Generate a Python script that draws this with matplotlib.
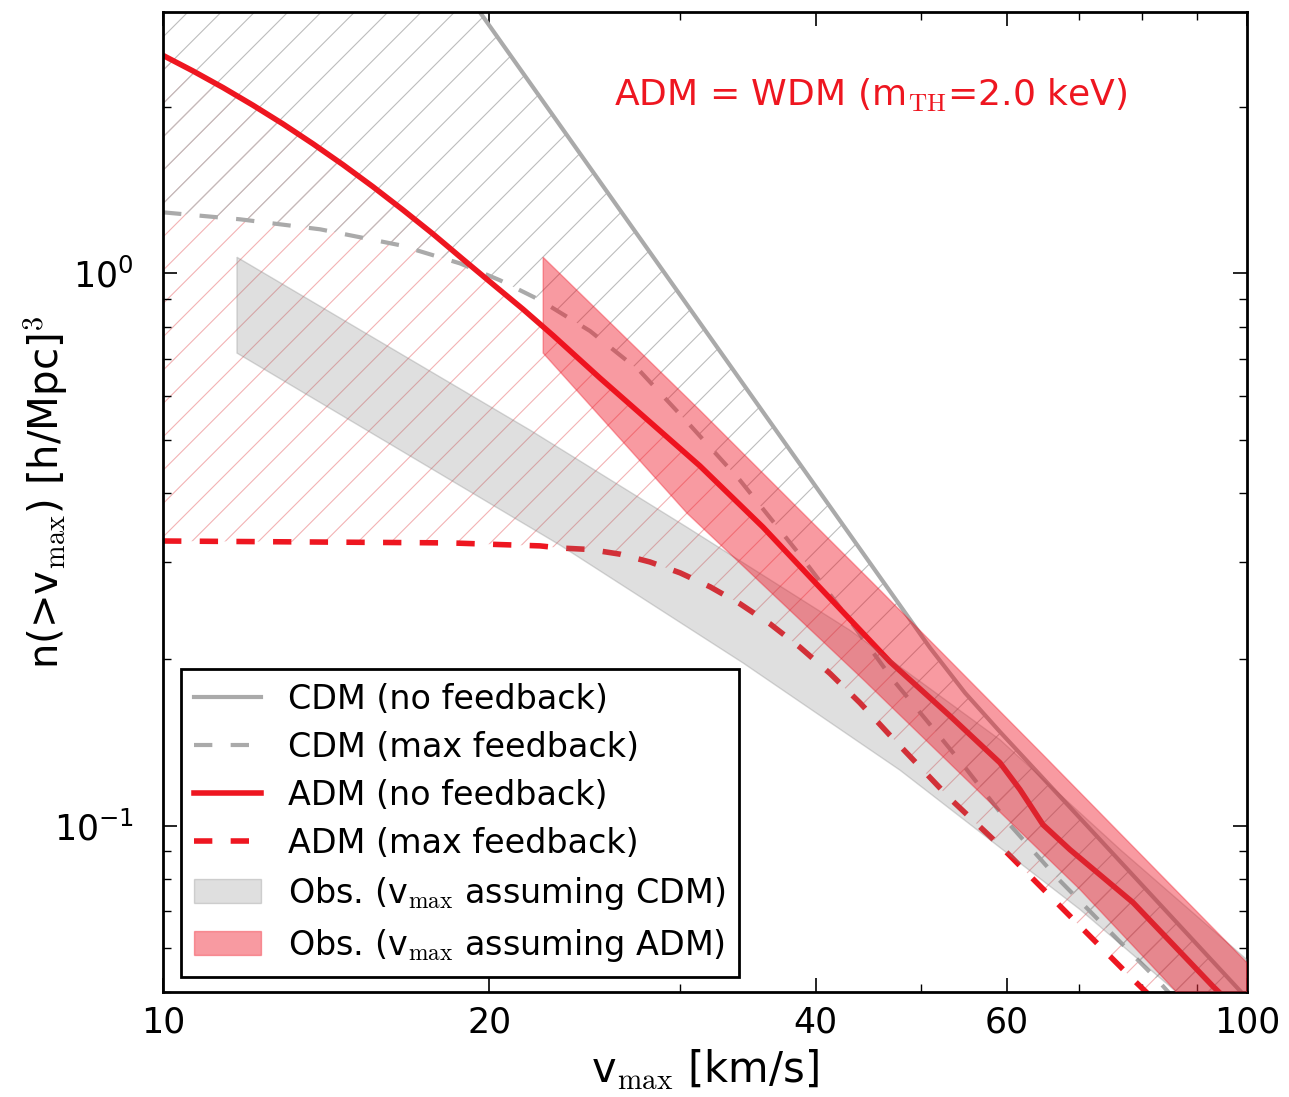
import numpy as np
import matplotlib
matplotlib.use("Agg")
import matplotlib.pyplot as plt
from matplotlib.ticker import FixedLocator, NullFormatter, FixedFormatter

plt.rcParams["mathtext.fontset"] = "cm"
plt.rcParams["font.family"] = ["DejaVu Sans"]
plt.rcParams["hatch.linewidth"] = 0.8

# --- cumulative velocity functions n(>v_max) [(h/Mpc)^3] ---
v_cdm = [10, 19.61, 51.0, 54.95, 59.17, 73.2, 100]
n_cdm = [19.1, 2.965, 0.2099, 0.1739, 0.1479, 0.0943, 0.0487]

v_cdm_fb = [10, 11.78, 13.96, 16.54, 18.79, 20.46, 22.27, 24.77, 27.54, 30.63,
            34.06, 38.69, 43.03, 47.14, 51.02, 54.70, 60.43, 66.80, 74.75, 82.6, 100]
n_cdm_fb = [1.289, 1.252, 1.201, 1.124, 1.042, 0.971, 0.894, 0.786, 0.665, 0.531,
            0.422, 0.309, 0.235, 0.1837, 0.1523, 0.1289, 0.1004, 0.0805, 0.0643,
            0.0527, 0.0347]

v_adm = [10, 10.658, 11.359, 12.106, 12.903, 13.751, 14.656, 15.62, 16.647,
         17.743, 18.91, 20.154, 21.48, 22.893, 25.30, 28.13, 31.28, 35.77,
         41.24, 46.85, 53.21, 59.17, 61.75, 64.84, 68.66, 78.5, 93.03, 100]
n_adm = [2.479, 2.323, 2.168, 2.014, 1.863, 1.715, 1.572, 1.434, 1.302,
         1.178, 1.060, 0.955, 0.861, 0.772, 0.646, 0.538, 0.448, 0.347,
         0.258, 0.198, 0.158, 0.130, 0.1162, 0.1004, 0.0905, 0.0726, 0.0512, 0.0446]

v_adm_fb = [10, 18.4, 22.27, 23.24, 24.77, 26.40, 28.13, 29.99, 31.96, 34.06,
            36.31, 38.69, 41.24, 43.96, 46.85, 53.21, 59.17, 78.5, 100]
n_adm_fb = [0.3276, 0.325, 0.321, 0.3182, 0.3162, 0.3101, 0.3002, 0.2869, 0.2707,
            0.2522, 0.2319, 0.2104, 0.1886, 0.1668, 0.1457, 0.112, 0.092, 0.0527, 0.0333]

# --- observed velocity function bands ---
v_obs_cdm_hi = [11.7, 21.81, 30.43, 43.0, 59.2, 76.4, 100]
n_obs_cdm_hi = [1.069, 0.520, 0.347, 0.226, 0.143, 0.0905, 0.0572]
v_obs_cdm_lo = [11.7, 23.24, 34.29, 47.86, 70.15, 86.2, 100]
n_obs_cdm_lo = [0.717, 0.322, 0.197, 0.126, 0.0705, 0.0499, 0.039]

v_obs_adm_hi = [22.42, 31.28, 45.86, 64.84, 100]
n_obs_adm_hi = [1.069, 0.565, 0.267, 0.1344, 0.0565]
v_obs_adm_lo = [22.42, 30.43, 44.24, 70.15, 86.18, 100]
n_obs_adm_lo = [0.717, 0.368, 0.184, 0.0766, 0.0499, 0.037]

x_ticks = [10, 20, 40, 60, 100]
x_ticklabels = ["10", "20", "40", "60", "100"]
x_minor = [30, 50, 70, 80, 90]

GRAY = "#aaaaaa"
RED = "#ee1620"


def band(xu, yu, xl, yl):
    xs = np.concatenate([np.asarray(xu, float), np.asarray(xl, float)[::-1]])
    ys = np.concatenate([np.asarray(yu, float), np.asarray(yl, float)[::-1]])
    return xs, ys


fig = plt.figure(figsize=(12.89, 10.97), dpi=100)
ax = fig.add_axes([0.1265, 0.0957, 0.8409, 0.8933])
ax.set_xscale("log")
ax.set_yscale("log")

# hatched ranges between the no-feedback and max-feedback predictions
hx, hy = band(v_adm, n_adm, v_adm_fb, n_adm_fb)
ax.fill(hx, hy, facecolor="none", edgecolor="#f3b2b4", linewidth=0, hatch="/", zorder=1)
hx, hy = band(v_cdm, n_cdm, v_cdm_fb, n_cdm_fb)
ax.fill(hx, hy, facecolor="none", edgecolor="#bdbdbd", linewidth=0, hatch="/", zorder=1)

# model curves
ax.plot(v_cdm, n_cdm, color=GRAY, lw=3, zorder=2, label="CDM (no feedback)")
ax.plot(v_cdm_fb, n_cdm_fb, color=GRAY, lw=3, dashes=(4.4, 4.4), zorder=2,
        label="CDM (max feedback)")
ax.plot(v_adm, n_adm, color=RED, lw=4, zorder=2, label="ADM (no feedback)")
ax.plot(v_adm_fb, n_adm_fb, color=RED, lw=4, dashes=(3.3, 3.3), zorder=2,
        label="ADM (max feedback)")

# observational bands
bx, by = band(v_obs_cdm_hi, n_obs_cdm_hi, v_obs_cdm_lo, n_obs_cdm_lo)
ax.fill(bx, by, facecolor=(0.5, 0.5, 0.5, 0.25), edgecolor=(0.5, 0.5, 0.5, 0.3),
        linewidth=1, zorder=3, label=r"Obs. (v$_{\rm max}$ assuming CDM)")
bx, by = band(v_obs_adm_hi, n_obs_adm_hi, v_obs_adm_lo, n_obs_adm_lo)
ax.fill(bx, by, facecolor=(0.94, 0.06, 0.12, 0.42), edgecolor=(0.94, 0.06, 0.12, 0.35),
        linewidth=1, zorder=3, label=r"Obs. (v$_{\rm max}$ assuming ADM)")

ax.set_xlim(10, 100)
ax.set_ylim(0.05, 2.97)

ax.xaxis.set_major_locator(FixedLocator(x_ticks))
ax.xaxis.set_major_formatter(FixedFormatter(x_ticklabels))
ax.xaxis.set_minor_locator(FixedLocator(x_minor))
ax.xaxis.set_minor_formatter(NullFormatter())
ax.yaxis.set_minor_formatter(NullFormatter())

ax.tick_params(which="both", direction="in", top=True, right=True)
ax.tick_params(which="major", length=10, width=1.2, labelsize=25)
ax.tick_params(axis="x", which="major", pad=10)
ax.tick_params(axis="y", which="major", pad=21)
ax.tick_params(which="minor", length=6, width=1.0)
for s in ax.spines.values():
    s.set_linewidth(2)

ax.set_xlabel(r"v$_{\rm max}$ [km/s]", fontsize=30, labelpad=6)
ax.set_ylabel(r"n(>v$_{\rm max}$) [h/Mpc]$^3$", fontsize=29)
ax.yaxis.set_label_coords(-0.086, 0.51)

ax.text(0.416, 0.915, r"ADM = WDM (m$_{\rm TH}$=2.0 keV)", transform=ax.transAxes,
        color=RED, fontsize=26, ha="left", va="center")

leg = ax.legend(loc="lower left", bbox_to_anchor=(0.0166, 0.0153), borderaxespad=0,
                fontsize=24, frameon=True, fancybox=False, framealpha=1,
                edgecolor="black", handlelength=2.0, handletextpad=0.8,
                borderpad=0.4, labelspacing=0.45)
leg.get_frame().set_linewidth(2)
leg.set_zorder(10)

fig.savefig("out.png", dpi=100)
